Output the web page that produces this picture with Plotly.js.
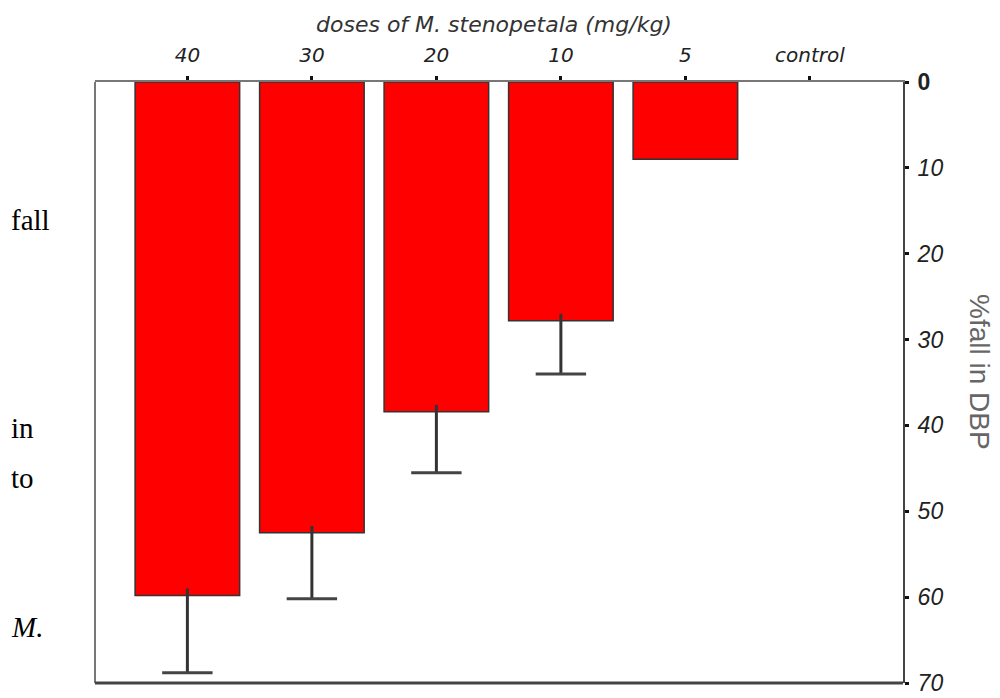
<!DOCTYPE html>
<html>
<head>
<meta charset="utf-8">
<script src="https://cdn.plot.ly/plotly-3.0.1.min.js"></script>
<style>html,body{margin:0;padding:0;background:#fff;}#chart{width:1000px;height:698px;}</style>
</head>
<body>
<div id="chart"></div>
<script>
const doses = ["40", "30", "20", "10", "5", "control"];
const fallDBP = [59.8, 52.5, 38.4, 27.8, 9.0, null];
const errUp = [9.0, 7.7, 7.1, 6.2, null, null];
const yTicks = [0, 10, 20, 30, 40, 50, 60, 70];
const xTitle = "doses of M. stenopetala (mg/kg)";
const yTitle = "%fall in DBP";
const sideWords = [
  {text: "fall", py: 220, italic: false},
  {text: "in", py: 428, italic: false},
  {text: "to", py: 478, italic: false},
  {text: "M.", py: 627, italic: true}
];

const L = 95, R = 903, T = 82, B = 683;
const pw = R - L, ph = B - T;

const bars = {
  type: "bar",
  x: doses,
  y: fallDBP,
  marker: {color: "#ff0000", line: {color: "#333", width: 1.5}},
  hoverinfo: "skip"
};

// error stems and whiskers built from the data arrays
const stemX = [], stemY = [], capX = [], capY = [];
doses.forEach((d, i) => {
  if (errUp[i] == null || fallDBP[i] == null) return;
  stemX.push(d, d, null);
  stemY.push(fallDBP[i] - 0.8, fallDBP[i] + errUp[i], null);
  capX.push(d);
  capY.push(fallDBP[i] + errUp[i]);
});
const stems = {
  type: "scatter", mode: "lines", x: stemX, y: stemY,
  line: {color: "#333", width: 3}, hoverinfo: "skip", connectgaps: false
};
const caps = {
  type: "scatter", mode: "markers", x: capX, y: capY,
  marker: {symbol: "line-ew", size: 36, line: {color: "#444", width: 3}, color: "#444"},
  hoverinfo: "skip"
};

const tickFontX = {family: "DejaVu Sans", size: 20, style: "italic", color: "#222"};
const tickFontY = {family: "Liberation Sans, Arial", size: 23, color: "#222"};

const annotations = [
  {text: xTitle, xref: "paper", yref: "paper", x: (494 - L) / pw, y: (B - 24) / ph,
   xanchor: "center", yanchor: "middle", showarrow: false,
   font: {family: "DejaVu Sans", size: 22, style: "italic", color: "#333"}},
  {text: yTitle, xref: "paper", yref: "paper", x: (980 - L) / pw, y: (B - 372) / ph,
   xanchor: "center", yanchor: "middle", showarrow: false, textangle: 90,
   font: {family: "Liberation Sans, Arial", size: 28, color: "#666"}}
].concat(sideWords.map(w => ({
  text: w.italic ? "<i>" + w.text + "</i>" : w.text,
  xref: "paper", yref: "paper", x: (9 - L) / pw, y: (B - w.py) / ph,
  xanchor: "left", yanchor: "middle", showarrow: false,
  font: {family: "Liberation Serif, Times New Roman", size: 29, color: "#000"}
})));

const layout = {
  width: 1000, height: 698,
  margin: {l: L, r: 1000 - R, t: T, b: 698 - B, pad: 0},
  paper_bgcolor: "#fff", plot_bgcolor: "#fff",
  showlegend: false,
  bargap: 0.16,
  xaxis: {
    type: "category", side: "top", categoryorder: "array", categoryarray: doses,
    range: [-0.742, 5.748],
    showline: true, linecolor: "#777", linewidth: 2, mirror: false,
    ticks: "outside", ticklen: 4, tickwidth: 3, tickcolor: "#111",
    tickfont: tickFontX, ticklabelstandoff: 6,
    showgrid: false, zeroline: false, fixedrange: true
  },
  yaxis: {
    side: "right", range: [70, 0], autorange: false,
    tickvals: yTicks,
    ticktext: yTicks.map(v => v === 0 ? "<b>0</b>" : "<i>" + v + "</i>"),
    showline: true, linecolor: "#444", linewidth: 2, mirror: false,
    ticks: "outside", ticklen: 4, tickwidth: 3, tickcolor: "#111",
    tickfont: tickFontY, ticklabelstandoff: 4,
    showgrid: false, zeroline: false, fixedrange: true
  },
  shapes: [
    {type: "line", xref: "paper", yref: "paper", x0: 0, x1: 0, y0: 0, y1: 1,
     line: {color: "#777", width: 2}},
    {type: "line", xref: "paper", yref: "paper", x0: 0, x1: 1, y0: 0, y1: 0,
     line: {color: "#444", width: 3}}
  ],
  annotations: annotations
};

Plotly.newPlot("chart", [bars, stems, caps], layout, {displayModeBar: false, staticPlot: true});
</script>
</body>
</html>
